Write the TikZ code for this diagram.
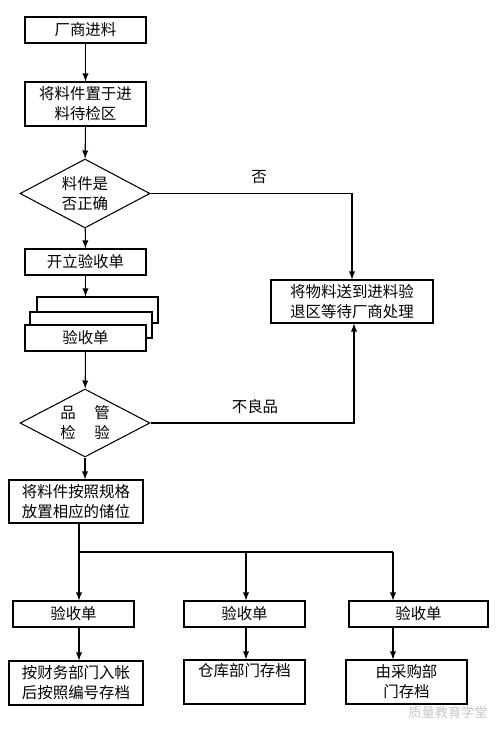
\documentclass[tikz,border=0pt]{standalone}
\usepackage{fontspec}
\newfontfamily\cn{Noto Sans CJK SC}
\usepackage{tikz}
\usetikzlibrary{arrows,positioning,calc,shapes}

\begin{document}
\begin{tikzpicture}[x=0.02cm,y=-0.02cm,
  box/.style={draw, line width=0.6pt, fill=white, inner sep=0pt, align=center,
    font={\cn\fontsize{8.8}{11.4}\selectfont}},
  decision/.style={box, shape=diamond, aspect=1.88},
  arr/.style={line width=0.6pt, -latex},
  lbl/.style={font={\cn\fontsize{8.8}{11.4}\selectfont}}]
\useasboundingbox (0,0) rectangle (500,734);

\node[box, minimum width=2.42cm, minimum height=0.52cm] (vendor) at (85.5,30) {厂商进料};
\node[box, minimum width=2.42cm, minimum height=0.88cm] (staging) at (85.5,104) {将料件置于进\\料待检区};
\node[decision, minimum width=2.6cm, minimum height=1.38cm] (check) at (85,193.5) {料件是\\否正确};
\node[box, minimum width=2.42cm, minimum height=0.52cm] (openform) at (85.5,262) {开立验收单};

% stacked forms
\node[box, minimum width=2.42cm, minimum height=0.52cm] (formback) at (97.5,310) {};
\node[box, minimum width=2.44cm, minimum height=0.52cm] (formmid) at (91,325) {};
\node[box, minimum width=2.42cm, minimum height=0.52cm] (form) at (85.5,338) {验收单};

\node[decision, minimum width=2.6cm, minimum height=1.36cm] (inspect) at (85,423) {品\hspace{1.2em}管\\检\hspace{1.2em}验};
\node[box, minimum width=2.68cm, minimum height=0.86cm] (store) at (76,501.5) {将料件按照规格\\放置相应的储位};
\node[box, minimum width=3.24cm, minimum height=0.86cm] (reject) at (352,301.5) {将物料送到进料验\\退区等待厂商处理};

\node[box, minimum width=2.42cm, minimum height=0.52cm] (form1) at (73.5,614) {验收单};
\node[box, minimum width=2.42cm, minimum height=0.52cm] (form2) at (244.5,614) {验收单};
\node[box, minimum width=2.78cm, minimum height=0.52cm] (form3) at (418.5,614) {验收单};

\node[box, minimum width=2.68cm, minimum height=0.88cm] (file1) at (76,683) {按财务部门入帐\\后按照编号存档};
\node[box, minimum width=2.42cm, minimum height=0.88cm, text depth=0.5cm] (file2) at (244.5,682) {仓库部门存档};
\node[box, minimum width=2.42cm, minimum height=0.88cm] (file3) at (406.5,682) {由采购部\\门存档};

\draw[arr] (vendor) -- (staging);
\draw[arr] (staging) -- (check);
\draw[arr] (check) -- (openform);
\draw[arr] (openform.south) -- (openform.south |- formback.north);
\draw[arr] (form) -- (inspect);
\draw[arr] (inspect.south) -- (inspect.south |- store.north);

\draw[arr] (check.east) -| (reject.north);
\node[lbl] (nolbl) at (259,177) {否};
\draw[arr] (inspect.east) -| ($(reject.south)+(2,0)$);
\node[lbl] (badlbl) at (255,407) {不良品};

% branch to three forms
\coordinate (split) at (79,552);
\coordinate (split2) at (246,552);
\coordinate (split3) at (393,552);
\draw[line width=0.6pt] (split |- store.south) -- (split) -- (split3);
\draw[arr] (split) -- (split |- form1.north);
\draw[arr] (split2) -- (split2 |- form2.north);
\draw[arr] (split3) -- (split3 |- form3.north);
\draw[arr] (form1.south -| split) -- (split |- file1.north);
\draw[arr] (form2.south -| split2) -- (split2 |- file2.north);
\draw[arr] (form3.south -| split3) -- (split3 |- file3.north);

\node[font={\cn\fontsize{7.5}{9}\selectfont}, text=gray!45] (mark) at (448,712) {质量教育学堂};
\end{tikzpicture}
\end{document}
